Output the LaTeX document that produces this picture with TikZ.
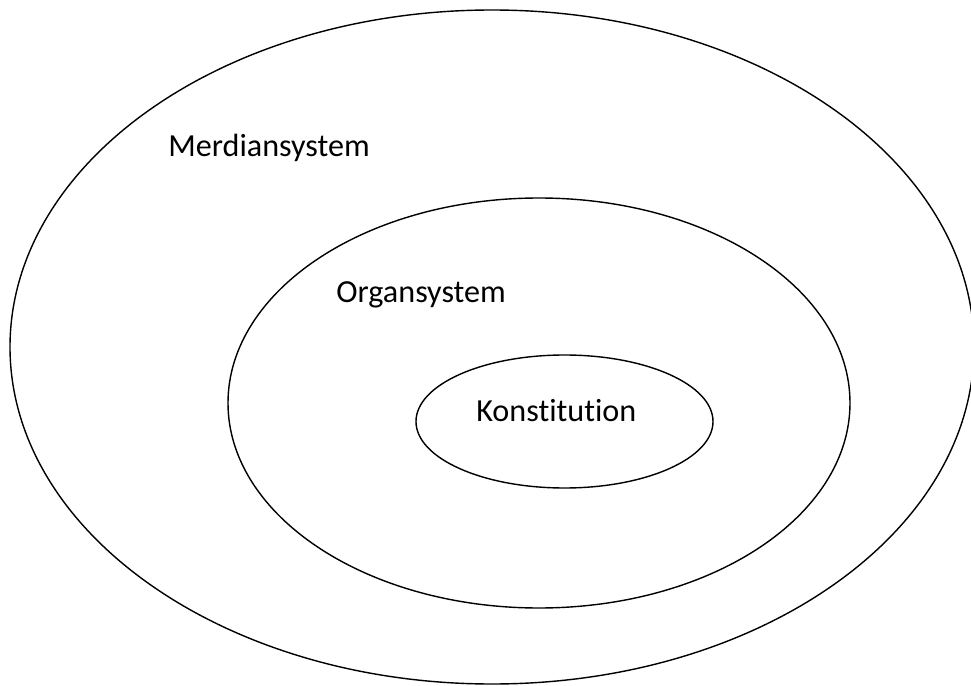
\documentclass[tikz,border=0pt]{standalone}
\usepackage{fontspec}
\setmainfont{Carlito}[Ligatures=NoCommon]
\usetikzlibrary{shapes.geometric}
\tikzset{ring/.style = {draw, ellipse, inner sep=0pt, line width=0.8pt}}
\tikzset{lbl/.style = {inner sep=0pt, anchor=base west, font=\fontsize{18.3}{22}\selectfont}}

\begin{document}
\begin{tikzpicture}[x=0.02cm, y=-0.02cm]

\useasboundingbox (0,0) rectangle (971,686);
\clip (0,0) rectangle (971,686);

\node[ring, minimum width=964*0.02cm, minimum height=674*0.02cm] (outer) at (492,347) {};
\node[ring, minimum width=622*0.02cm, minimum height=410*0.02cm] (middle) at (539,403) {};
\node[ring, minimum width=297*0.02cm, minimum height=133*0.02cm] (inner) at (564.5,421.5) {};

\node[lbl] (merdian) at (168,156) {Merdiansystem};
\node[lbl] (organ) at (336,302) {Organsystem};
\node[lbl] (konst) at (476,421) {Konstitution};

\end{tikzpicture}
\end{document}
